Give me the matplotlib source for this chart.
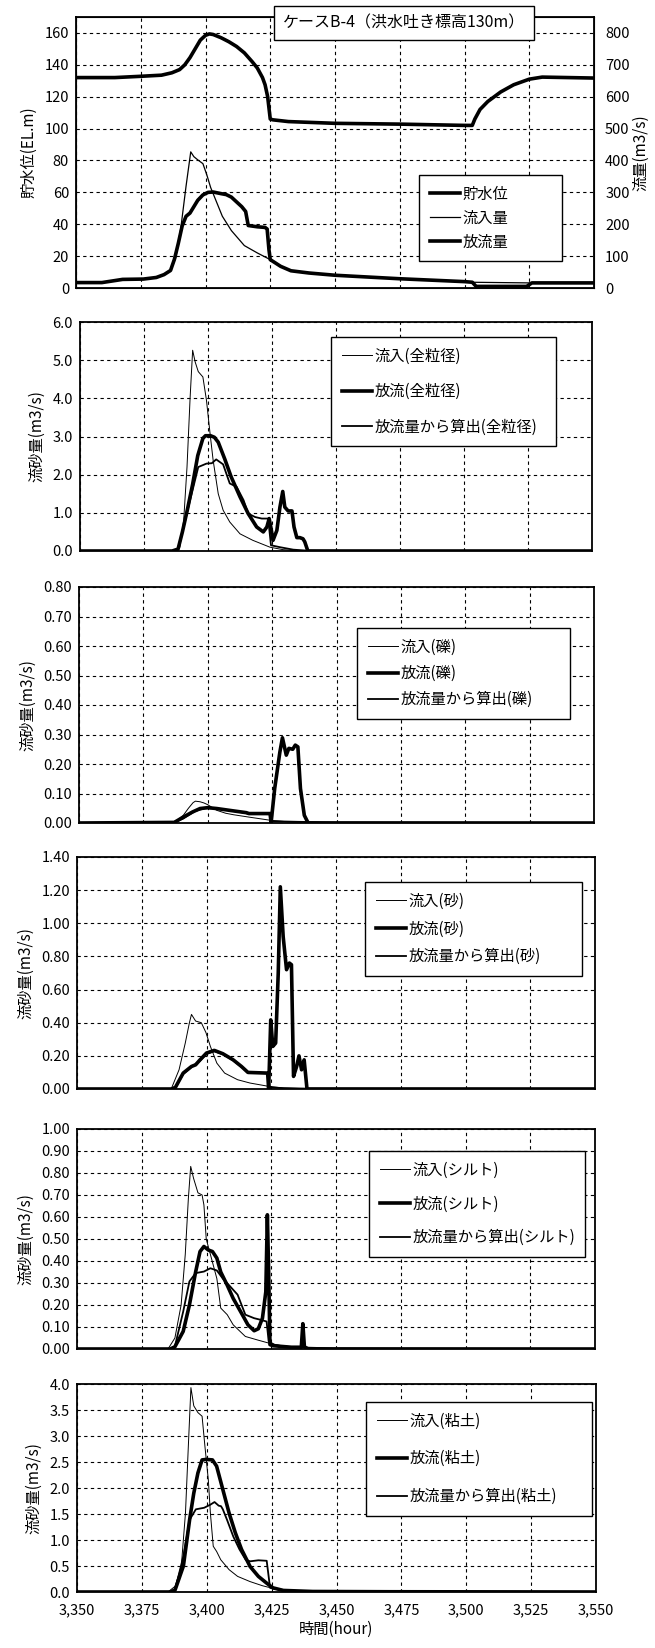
import matplotlib
matplotlib.use("Agg")
import matplotlib.pyplot as plt
from matplotlib.ticker import FormatStrFormatter

plt.rcParams['font.family'] = ['Noto Sans CJK JP', 'DejaVu Sans']

# ---- panel 1: water level / flow ----
level_t = [3350, 3365, 3375, 3383, 3387, 3390, 3392, 3394, 3396, 3398, 3400, 3401.5, 3403, 3406,
           3409, 3412, 3415, 3418, 3420, 3422, 3423, 3424, 3425, 3426, 3432, 3450, 3475, 3500,
           3503, 3504, 3506, 3509, 3514, 3519, 3525, 3530, 3550]
level = [132, 132, 132.8, 133.5, 135, 137, 140, 144.5, 150, 155.5, 158.5, 159.4, 159, 157,
         154.5, 151.5, 147.5, 142, 138, 132, 127.5, 120, 106, 105.5, 104.4, 103.3, 102.8, 102,
         102, 106, 112, 117, 123, 127.5, 131, 132.3, 131.7]

inflow_t = [3350, 3360, 3364, 3368, 3376, 3381, 3384, 3386.5, 3388.5, 3390.5, 3392.5, 3394.3,
            3395.5, 3397, 3399, 3400.5, 3402, 3404, 3406.5, 3410, 3415, 3420, 3425, 3429, 3433,
            3440, 3450, 3475, 3500, 3503, 3525, 3550]
inflow = [17, 17, 22, 27, 28, 33, 42, 55, 95, 190, 320, 427, 412, 402, 390, 355, 315, 275, 225,
          180, 133, 110, 89, 68, 54, 47, 40, 29, 20, 18, 16, 16]

out_t = [3350, 3360, 3364, 3368, 3376, 3381, 3384, 3386.5, 3388, 3389.5, 3391, 3392.5, 3394,
         3395.5, 3397, 3399, 3401, 3403, 3406, 3408, 3410, 3412, 3414, 3415.5, 3416.5, 3420, 3423,
         3423.8, 3424.5, 3425, 3429, 3433, 3440, 3450, 3475, 3500, 3503, 3504.5, 3524, 3526, 3550]
outflow = [17, 17, 22, 27, 28, 33, 42, 55, 90, 140, 195, 225, 235, 255, 275, 292, 300, 301, 296,
           293, 285, 270, 255, 240, 196, 192, 190, 185, 120, 89, 68, 54, 47, 40, 29, 20, 18, 5,
           5, 16, 16]

# ---- panel 2: all grain sizes ----
in_all_t = [3350, 3385, 3387, 3389, 3390.5, 3391.8, 3393, 3394, 3395, 3396.2, 3398, 3399.4,
            3400.8, 3402, 3404, 3405.9, 3408.5, 3412.5, 3417.5, 3424.2, 3429.3, 3433.3, 3440, 3550]
in_all = [0, 0, 0.03, 0.1, 0.8, 2.2, 4.0, 5.26, 4.95, 4.7, 4.56, 3.95, 3.08, 2.38, 1.5, 1.07,
          0.76, 0.45, 0.28, 0.1, 0.035, 0.015, 0.005, 0]
out_all_t = [3350, 3386, 3388.3, 3390, 3392, 3394, 3396, 3398, 3399, 3401, 3402.5, 3404, 3406.6,
             3409, 3412.5, 3415.7, 3419, 3421.6, 3423, 3423.9, 3424.6, 3425.4, 3426.9, 3428.1,
             3429.2, 3430, 3431.3, 3432.8, 3433.6, 3434.7, 3435.9, 3437.1, 3437.8, 3439, 3550]
out_all = [0, 0, 0.05, 0.5, 1.1, 1.75, 2.5, 2.95, 3.02, 3.02, 2.98, 2.85, 2.4, 1.95, 1.42, 0.98,
           0.63, 0.5, 0.63, 0.85, 0.6, 0.28, 0.54, 1.15, 1.56, 1.15, 1.05, 1.05, 0.63, 0.35,
           0.35, 0.32, 0.24, 0, 0]
calc_all_t = [3350, 3386, 3388.3, 3390, 3393, 3396.2, 3399.4, 3401.5, 3403.2, 3405.9, 3408.5,
              3411.2, 3413.9, 3415.7, 3418.4, 3421, 3423.5, 3424.6, 3428.1, 3433.3, 3438.7,
              3450, 3550]
calc_all = [0, 0, 0.04, 0.5, 1.33, 2.2, 2.29, 2.3, 2.4, 2.27, 1.77, 1.68, 1.33, 0.98, 0.89, 0.85,
            0.85, 0.15, 0.1, 0.035, 0.01, 0.003, 0]

# ---- panel 3: gravel ----
in_gr_t = [3350, 3370, 3386, 3388, 3390.5, 3392.5, 3394.3, 3395.2, 3397, 3398.5, 3400, 3403.5,
           3407, 3410, 3416, 3424.5, 3432.5, 3440, 3550]
in_gr = [0, 0.002, 0.003, 0.008, 0.026, 0.05, 0.069, 0.074, 0.072, 0.068, 0.062, 0.043, 0.033,
         0.028, 0.02, 0.009, 0.003, 0.001, 0]
out_gr_t = [3350, 3387, 3390.5, 3394, 3397, 3400, 3403.5, 3410, 3415, 3416, 3424.2, 3424.6,
            3426, 3428, 3429, 3430.5, 3431.5, 3433, 3434, 3435, 3436, 3437.5, 3439, 3550]
out_gr = [0, 0.002, 0.02, 0.037, 0.049, 0.052, 0.049, 0.041, 0.035, 0.032, 0.032, 0.001, 0.117,
          0.24, 0.289, 0.23, 0.253, 0.25, 0.264, 0.258, 0.117, 0.026, 0, 0]
calc_gr_t = [3350, 3387, 3390.5, 3395, 3399, 3403, 3409, 3414, 3416, 3424, 3425, 3435, 3450,
             3500, 3550]
calc_gr = [0, 0.002, 0.015, 0.04, 0.05, 0.05, 0.042, 0.035, 0.031, 0.03, 0.006, 0.004, 0.002,
           0.001, 0]

# ---- panel 4: sand ----
in_sa_t = [3350, 3385, 3386.5, 3389.4, 3391.8, 3393.4, 3394.2, 3395.8, 3398, 3399.8, 3401.5,
           3404, 3407, 3412, 3416.8, 3424, 3429.6, 3440, 3550]
in_sa = [0, 0, 0.005, 0.116, 0.277, 0.4, 0.45, 0.41, 0.4, 0.34, 0.257, 0.156, 0.096, 0.056,
         0.036, 0.016, 0.006, 0.001, 0]
out_sa_t = [3350, 3386.5, 3388, 3391, 3394.2, 3395.8, 3397.5, 3400, 3403, 3406.3, 3410.3, 3413.5,
            3416, 3423.6, 3424, 3424.8, 3425.6, 3426.7, 3427.7, 3428.5, 3429.6, 3430.9, 3432,
            3432.8, 3433.6, 3434.8, 3435.7, 3436.7, 3437.7, 3438.8, 3550]
out_sa = [0, 0, 0.01, 0.096, 0.136, 0.146, 0.176, 0.217, 0.233, 0.213, 0.176, 0.136, 0.1, 0.096,
          0.0, 0.417, 0.257, 0.277, 0.7, 1.22, 0.92, 0.72, 0.76, 0.75, 0.076, 0.136, 0.2, 0.116,
          0.176, 0, 0]
calc_sa_t = [3350, 3386.5, 3388, 3391, 3394, 3397.5, 3400, 3403, 3406.3, 3410.3, 3413.5, 3416,
             3423.6, 3424.2, 3430, 3440, 3550]
calc_sa = [0, 0, 0.008, 0.09, 0.13, 0.17, 0.212, 0.228, 0.21, 0.172, 0.133, 0.1, 0.095, 0.01,
           0.005, 0.002, 0]

# ---- panel 5: silt ----
in_si_t = [3350, 3385, 3385.4, 3387.8, 3390.2, 3391.8, 3393, 3393.9, 3395, 3396.7, 3398.3, 3399,
           3399.9, 3401.5, 3404, 3405.5, 3408, 3410.3, 3415, 3420, 3424, 3428, 3432.8, 3449, 3550]
in_si = [0, 0, 0.005, 0.05, 0.2, 0.43, 0.685, 0.83, 0.776, 0.71, 0.70, 0.655, 0.5, 0.43, 0.32,
         0.186, 0.156, 0.11, 0.057, 0.04, 0.027, 0.017, 0.008, 0.003, 0]
out_si_t = [3350, 3386, 3387.8, 3391, 3393.4, 3395.8, 3397.5, 3399, 3400.7, 3402.3, 3404, 3405.5,
            3408, 3410.3, 3413.5, 3416, 3418.4, 3420, 3421.6, 3422.9, 3423.5, 3424, 3424.5,
            3425.6, 3432.8, 3436.6, 3437.2, 3437.8, 3439.3, 3550]
out_si = [0, 0, 0.01, 0.08, 0.2, 0.35, 0.443, 0.466, 0.45, 0.443, 0.413, 0.35, 0.29, 0.23, 0.163,
          0.11, 0.083, 0.092, 0.14, 0.26, 0.61, 0.35, 0.02, 0.015, 0.008, 0.008, 0.115, 0.01, 0, 0]
calc_si_t = [3350, 3386, 3387.8, 3391, 3393.4, 3395.8, 3399, 3401.5, 3404, 3406.3, 3408.7, 3412,
             3415, 3418.4, 3420.8, 3423.2, 3424, 3426.4, 3432.8, 3449, 3550]
calc_si = [0, 0, 0.012, 0.17, 0.307, 0.345, 0.352, 0.367, 0.357, 0.32, 0.29, 0.247, 0.156, 0.14,
           0.133, 0.125, 0.035, 0.017, 0.008, 0.003, 0]

# ---- panel 6: clay ----
in_cl_t = [3350, 3385, 3385.3, 3387.8, 3390.2, 3391.8, 3392.9, 3393.9, 3395, 3396.6, 3398.2,
           3399.3, 3400.6, 3401.4, 3402.5, 3403.8, 3405.4, 3408.6, 3411.9, 3416.7, 3421.5,
           3424.7, 3432.7, 3450, 3550]
in_cl = [0, 0, 0.01, 0.11, 0.5, 1.52, 2.8, 3.93, 3.58, 3.45, 3.38, 2.8, 2.16, 1.52, 0.88, 0.78,
         0.62, 0.43, 0.30, 0.2, 0.12, 0.08, 0.026, 0.01, 0]
out_cl_t = [3350, 3386, 3387.8, 3391, 3393.4, 3395, 3396.6, 3398.2, 3399.8, 3402.2, 3403.8,
            3406.2, 3408.6, 3411, 3413.4, 3416.7, 3419.9, 3423.1, 3425.5, 3429.5, 3440.8, 3470, 3550]
out_cl = [0, 0, 0.04, 0.5, 1.39, 1.9, 2.29, 2.54, 2.55, 2.54, 2.42, 1.97, 1.52, 1.14, 0.82, 0.49,
          0.30, 0.17, 0.08, 0.03, 0.01, 0.005, 0]
calc_cl_t = [3350, 3386, 3387.8, 3391, 3393.4, 3395.8, 3399, 3401.4, 3403, 3404.6, 3405.5,
             3406.2, 3407.8, 3410.2, 3412.6, 3415, 3416.7, 3419.9, 3423.1, 3424.4, 3429.5, 3440, 3550]
calc_cl = [0, 0, 0.04, 0.69, 1.39, 1.59, 1.62, 1.68, 1.73, 1.66, 1.65, 1.59, 1.39, 1.07, 0.82,
           0.62, 0.59, 0.61, 0.60, 0.08, 0.03, 0.01, 0]

xticks = [3350, 3375, 3400, 3425, 3450, 3475, 3500, 3525, 3550]
W, H = 655, 1648
THIN, MID, THICK = 0.7, 1.3, 2.6


def rect(l, r, t, b):
    return [l / W, 1 - b / H, (r - l) / W, (b - t) / H]


def style(ax, ymax, ystep, fmt):
    ax.set_xlim(3350, 3550)
    ax.set_ylim(0, ymax)
    ax.set_xticks(xticks)
    n = int(round(ymax / ystep))
    ax.set_yticks([i * ystep for i in range(n + 1)])
    ax.yaxis.set_major_formatter(FormatStrFormatter(fmt))
    ax.grid(True, color='black', linestyle=(0, (3, 3)), linewidth=0.8)
    ax.tick_params(length=0, labelsize=10.5, pad=5)
    for s in ax.spines.values():
        s.set_linewidth(1.3)
    ax.set_xticklabels([])


def legend(ax, handles, labels, l, r, t, b, spacing):
    leg = ax.legend(handles, labels, loc='upper left',
                    bbox_to_anchor=(l / W, 1 - b / H, (r - l) / W, (b - t) / H),
                    bbox_transform=fig.transFigure, mode='expand', fontsize=11,
                    frameon=True, fancybox=False, edgecolor='black', framealpha=1,
                    handlelength=2.0, handletextpad=0.15, labelspacing=spacing,
                    borderpad=0.7, borderaxespad=0)
    leg.get_frame().set_linewidth(1.0)


fig = plt.figure(figsize=(W / 100, H / 100), dpi=100)

# panel 1
ax1 = fig.add_axes(rect(76, 594, 17, 288))
style(ax1, 170, 20, '%d')
ax1.set_yticks(range(0, 161, 20))
ax1.plot(level_t, level, color='black', lw=THICK)
ax1.set_ylabel('貯水位(EL.m)', fontsize=11, labelpad=5)
ax1b = ax1.twinx()
ax1b.set_ylim(0, 850)
ax1b.set_yticks(range(0, 801, 100))
ax1b.tick_params(length=0, labelsize=10.5, pad=8)
h_in, = ax1b.plot(inflow_t, inflow, color='black', lw=THIN + 0.2)
h_out, = ax1b.plot(out_t, outflow, color='black', lw=THICK)
ax1b.set_ylabel('流量(m3/s)', fontsize=11, labelpad=2)
h_lv = plt.Line2D([], [], color='black', lw=THICK)
legend(ax1b, [h_lv, h_in, h_out], ['貯水位', '流入量', '放流量'], 419, 562, 175, 251, 0.45)
fig.text(404 / W, 1 - 23 / H, 'ケースB-4（洪水吐き標高130m）', ha='center', va='center',
         fontsize=11.5,
         bbox=dict(boxstyle='square,pad=0.55', facecolor='white', edgecolor='black', lw=1.0))

panels = [
    ((80, 592, 322, 551), 6.0, 1.0, '%.1f', '全粒径', in_all_t, in_all, out_all_t, out_all,
     calc_all_t, calc_all, (331, 556, 337, 456), 1.2),
    ((79, 594, 587, 823), 0.8, 0.1, '%.2f', '礫', in_gr_t, in_gr, out_gr_t, out_gr,
     calc_gr_t, calc_gr, (357, 570, 628, 709), 0.6),
    ((77, 595, 857, 1089), 1.4, 0.2, '%.2f', '砂', in_sa_t, in_sa, out_sa_t, out_sa,
     calc_sa_t, calc_sa, (365, 582, 882, 973), 0.7),
    ((77, 595, 1129, 1349), 1.0, 0.1, '%.2f', 'シルト', in_si_t, in_si, out_si_t, out_si,
     calc_si_t, calc_si, (369, 585, 1151, 1258), 1.1),
    ((77, 596, 1384, 1592), 4.0, 0.5, '%.1f', '粘土', in_cl_t, in_cl, out_cl_t, out_cl,
     calc_cl_t, calc_cl, (366, 592, 1402, 1522), 1.35),
]

for i, (box, ymax, ystep, fmt, name, t1, y1, t2, y2, t3, y3, lbox, sp) in enumerate(panels):
    ax = fig.add_axes(rect(*box))
    style(ax, ymax, ystep, fmt)
    a, = ax.plot(t1, y1, color='black', lw=THIN)
    b, = ax.plot(t2, y2, color='black', lw=THICK)
    c, = ax.plot(t3, y3, color='black', lw=MID)
    ax.set_ylabel('流砂量(m3/s)', fontsize=11, labelpad=5)
    legend(ax, [a, b, c], ['流入(%s)' % name, '放流(%s)' % name, '放流量から算出(%s)' % name],
           *lbox, sp)
    if i == len(panels) - 1:
        ax.set_xticklabels(['{:,}'.format(v) for v in xticks])
        ax.tick_params(axis='x', pad=8)
        ax.set_xlabel('時間(hour)', fontsize=11, labelpad=3)

fig.savefig('out.png', dpi=100)
